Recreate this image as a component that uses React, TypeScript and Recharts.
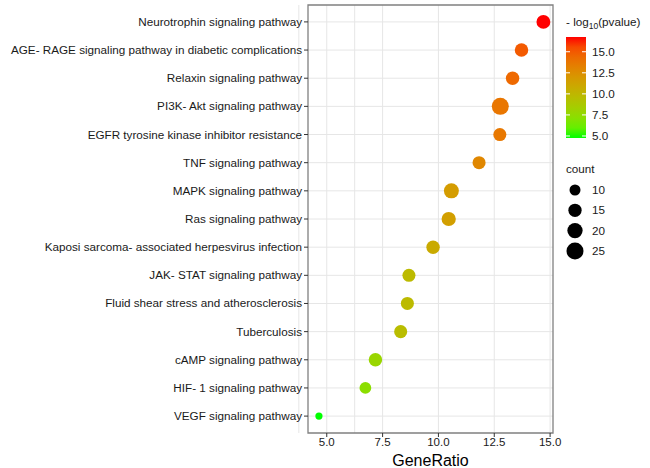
import React from 'react';
import {
  ScatterChart,
  Scatter,
  XAxis,
  YAxis,
  ZAxis,
  CartesianGrid,
  ReferenceArea,
  Cell,
  Label,
} from 'recharts';

const pathways = [
  'Neurotrophin signaling pathway',
  'AGE- RAGE signaling pathway in diabetic complications',
  'Relaxin signaling pathway',
  'PI3K- Akt signaling pathway',
  'EGFR tyrosine kinase inhibitor resistance',
  'TNF signaling pathway',
  'MAPK signaling pathway',
  'Ras signaling pathway',
  'Kaposi sarcoma- associated herpesvirus infection',
  'JAK- STAT signaling pathway',
  'Fluid shear stress and atherosclerosis',
  'Tuberculosis',
  'cAMP signaling pathway',
  'HIF- 1 signaling pathway',
  'VEGF signaling pathway',
];
const geneRatio = [14.7, 13.72, 13.32, 12.77, 12.75, 11.82, 10.58, 10.46, 9.76, 8.68, 8.61, 8.31, 7.18, 6.73, 4.65];
const logP = [16.75, 15.0, 14.4, 13.8, 13.7, 12.9, 11.7, 11.5, 10.8, 9.8, 9.8, 9.6, 7.8, 7.2, 4.76];
const counts = [17, 16, 16, 26, 15, 15, 20, 18, 16, 15, 15, 15, 16, 12, 4];

const xTicks = [5, 7.5, 10, 12.5, 15];
const xGrid = [3.75, 5, 6.25, 7.5, 8.75, 10, 11.25, 12.5, 13.75, 15];
const colorTicks = [5, 7.5, 10, 12.5, 15];
const countTicks = [10, 15, 20, 25];

const X_DOMAIN: [number, number] = [4.16, 15.13];
const Y_DOMAIN: [number, number] = [-0.6, 14.6];
const P_MIN = 4.76;
const P_MAX = 16.75;

// sRGB <-> Lab, to interpolate like ggplot's gradient
const toLin = (c: number) => {
  c /= 255;
  return c <= 0.04045 ? c / 12.92 : Math.pow((c + 0.055) / 1.055, 2.4);
};
const fromLin = (c: number) => {
  const v = c <= 0.0031308 ? 12.92 * c : 1.055 * Math.pow(c, 1 / 2.4) - 0.055;
  return Math.max(0, Math.min(255, Math.round(v * 255)));
};
const Xn = 0.95047, Yn = 1.0, Zn = 1.08883;
const f = (t: number) => (t > 216 / 24389 ? Math.cbrt(t) : (24389 / 27 * t + 16) / 116);
const fi = (t: number) => (t * t * t > 216 / 24389 ? t * t * t : (116 * t - 16) / (24389 / 27));

const rgbToLab = ([r, g, b]: number[]) => {
  const R = toLin(r), G = toLin(g), B = toLin(b);
  const X = 0.4124 * R + 0.3576 * G + 0.1805 * B;
  const Y = 0.2126 * R + 0.7152 * G + 0.0722 * B;
  const Z = 0.0193 * R + 0.1192 * G + 0.9505 * B;
  const fx = f(X / Xn), fy = f(Y / Yn), fz = f(Z / Zn);
  return [116 * fy - 16, 500 * (fx - fy), 200 * (fy - fz)];
};
const labToHex = ([L, a, b]: number[]) => {
  const fy = (L + 16) / 116;
  const fx = fy + a / 500;
  const fz = fy - b / 200;
  const X = fi(fx) * Xn, Y = fi(fy) * Yn, Z = fi(fz) * Zn;
  const R = 3.2406 * X - 1.5372 * Y - 0.4986 * Z;
  const G = -0.9689 * X + 1.8758 * Y + 0.0415 * Z;
  const B = 0.0557 * X - 0.204 * Y + 1.057 * Z;
  return '#' + [R, G, B].map((c) => fromLin(c).toString(16).padStart(2, '0')).join('');
};

const LOW = rgbToLab([0, 255, 0]);
const HIGH = rgbToLab([255, 0, 0]);
const colorAt = (t: number) => {
  const k = Math.max(0, Math.min(1, t));
  return labToHex(LOW.map((v, i) => v + (HIGH[i] - v) * k));
};
const pColor = (p: number) => colorAt((p - P_MIN) / (P_MAX - P_MIN));

// dot diameter, same mapping as the chart's ZAxis
const dotDiameter = (c: number) => Math.sqrt(9 + 11.2 * c);

const data = pathways.map((name, i) => ({
  name,
  idx: i,
  ratio: geneRatio[i],
  p: logP[i],
  count: counts[i],
}));

const FONT = 'Liberation Sans, Arial, sans-serif';
const TEXT = '#1a1a1a';
const LEG_FONT = 11.7;

// plain one-line tick so long pathway names don't get wrapped
const PathwayTick = (props: any) => {
  const { x, y, payload } = props;
  return (
    <text x={x} y={y} dy={4} textAnchor="end" fontFamily={FONT} fontSize={11.7} fill={TEXT}>
      {pathways[payload.value] ?? ''}
    </text>
  );
};

const LegendPanel = () => {
  const barTop = 37;
  const barBottom = 138;
  const barX = 566;
  const barW = 20;
  const yOf = (v: number) => barBottom - ((v - P_MIN) / (P_MAX - P_MIN)) * (barBottom - barTop);
  const stops = Array.from({ length: 11 }, (_, i) => i / 10);
  return (
    <svg
      width={650}
      height={468}
      style={{ position: 'absolute', left: 0, top: 0, pointerEvents: 'none' }}
    >
      <defs>
        <linearGradient id="pgrad" x1="0" y1="1" x2="0" y2="0">
          {stops.map((s) => (
            <stop key={s} offset={s} stopColor={colorAt(s)} />
          ))}
        </linearGradient>
      </defs>
      <text x={barX} y={26} fontFamily={FONT} fontSize={LEG_FONT} fill={TEXT}>
        - log
        <tspan fontSize={8.5} dy={3}>10</tspan>
        <tspan dy={-3}>(pvalue)</tspan>
      </text>
      <rect x={barX} y={barTop} width={barW} height={barBottom - barTop} fill="url(#pgrad)" />
      {colorTicks.map((v) => (
        <g key={v}>
          <line x1={barX} x2={barX + 4} y1={yOf(v)} y2={yOf(v)} stroke="#fff" strokeWidth={1} />
          <line x1={barX + barW - 4} x2={barX + barW} y1={yOf(v)} y2={yOf(v)} stroke="#fff" strokeWidth={1} />
          <text x={592} y={yOf(v) + 4} fontFamily={FONT} fontSize={LEG_FONT} fill={TEXT}>
            {v.toFixed(1)}
          </text>
        </g>
      ))}
      <text x={566} y={173} fontFamily={FONT} fontSize={LEG_FONT} fill={TEXT}>
        count
      </text>
      {countTicks.map((c, i) => (
        <g key={c}>
          <circle cx={575} cy={190 + i * 20.3} r={dotDiameter(c) / 2} fill="#000" />
          <text x={592} y={190 + i * 20.3 + 4} fontFamily={FONT} fontSize={LEG_FONT} fill={TEXT}>
            {c}
          </text>
        </g>
      ))}
    </svg>
  );
};

const App: React.FC = () => {
  return (
    <div style={{ position: 'absolute', left: 0, top: 0, width: 650, height: 468, background: '#fff' }}>
      <ScatterChart
        width={650}
        height={468}
        margin={{ top: 5, right: 97, left: 0, bottom: 0 }}
      >
        <CartesianGrid
          stroke="#e6e6e6"
          strokeWidth={1}
          verticalValues={xGrid}
          horizontalValues={pathways.map((_, i) => i)}
        />
        <XAxis
          type="number"
          dataKey="ratio"
          domain={X_DOMAIN}
          ticks={xTicks}
          allowDataOverflow
          tickFormatter={(v: number) => v.toFixed(1)}
          tick={{ fontSize: 11.5, fill: TEXT, fontFamily: FONT }}
          tickSize={4}
          tickMargin={1}
          tickLine={{ stroke: '#333' }}
          axisLine={false}
          height={35}
        >
          <Label
            value="GeneRatio"
            position="insideBottom"
            offset={2}
            style={{ fontSize: 16, fill: '#000', fontFamily: FONT }}
          />
        </XAxis>
        <YAxis
          type="number"
          dataKey="idx"
          domain={Y_DOMAIN}
          reversed
          ticks={pathways.map((_, i) => i)}
          interval={0}
          allowDataOverflow
          tick={<PathwayTick />}
          tickSize={4}
          tickMargin={2}
          tickLine={{ stroke: '#333' }}
          axisLine={false}
          width={308}
        />
        <ZAxis type="number" dataKey="count" domain={[0, 25]} range={[7.07, 227]} />
        <ReferenceArea
          x1={X_DOMAIN[0]}
          x2={X_DOMAIN[1]}
          y1={Y_DOMAIN[0]}
          y2={Y_DOMAIN[1]}
          fill="none"
          stroke="#808080"
          strokeWidth={1.3}
          fillOpacity={0}
        />
        <Scatter data={data} isAnimationActive={false}>
          {data.map((d, i) => (
            <Cell key={`cell-${i}`} fill={pColor(d.p)} />
          ))}
        </Scatter>
      </ScatterChart>
      <LegendPanel />
    </div>
  );
};

export default App;
